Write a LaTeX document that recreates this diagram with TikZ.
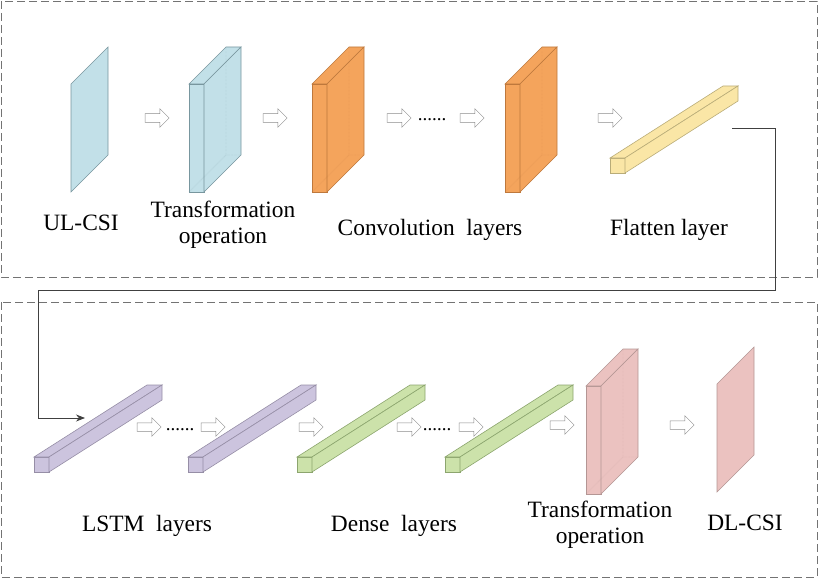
\documentclass[tikz,border=0pt]{standalone}
\usepackage{fontspec}
\setmainfont{Liberation Serif}
\usetikzlibrary{arrows.meta}
\usetikzlibrary{shapes}
\usetikzlibrary{positioning}

\definecolor{csifill}{RGB}{194,224,232}
\definecolor{csiedge}{RGB}{120,150,158}
\definecolor{convfill}{RGB}{244,164,92}
\definecolor{convedge}{RGB}{190,120,60}
\definecolor{flatfill}{RGB}{250,230,166}
\definecolor{flatedge}{RGB}{185,172,120}
\definecolor{lstmfill}{RGB}{204,196,222}
\definecolor{lstmedge}{RGB}{150,142,166}
\definecolor{densefill}{RGB}{204,226,170}
\definecolor{denseedge}{RGB}{140,165,110}
\definecolor{outfill}{RGB}{235,194,192}
\definecolor{outedge}{RGB}{180,150,148}

\begin{document}
\begin{tikzpicture}[x=1pt,y=-1pt]
            \tikzset{every node/.style={inner sep=0pt},
                    >={Stealth[length=9pt,width=7pt]},
                    groupbox/.style={draw=black!55, line width=0.8pt, dash pattern=on 8pt off 4pt},
                    blockarrow/.style={single arrow, draw=black!45, fill=white, line width=0.5pt,
                        inner xsep=0pt, inner ysep=4pt, minimum width=0pt, minimum height=24pt,
                        single arrow head extend=5pt},
                    dots/.style={anchor=base, font=\fontsize{19}{19}\selectfont},
                    caption/.style={anchor=base, align=center, font=\fontsize{23.4}{26}\selectfont},
                    pics/plane/.style args={#1/#2}{code={
                        \filldraw[fill=#1, draw=#2, line width=0.6pt] (0,0) -- (0,-108) -- (37,-145) -- (37,-37) -- cycle;
                    }},
                    pics/slab/.style args={#1/#2}{code={
                        \filldraw[fill=#1, draw=#2, line width=0.6pt] (0,0) rectangle (15,-108);
                        \filldraw[fill=#1, draw=#2, line width=0.6pt] (0,-108) -- (37,-145) -- (52,-145) -- (15,-108) -- cycle;
                        \filldraw[fill=#1, draw=#2, line width=0.6pt] (15,0) -- (15,-108) -- (52,-145) -- (52,-37) -- cycle;
                        \draw[#2, densely dotted, line width=0.4pt, opacity=0.6] (0,0) -- (37,-37) -- (52,-37) (37,-37) -- (37,-145);
                    }},
                    pics/bar/.style args={#1/#2}{code={
                        \filldraw[fill=#1, draw=#2, line width=0.6pt] (0,0) rectangle (15,-15);
                        \filldraw[fill=#1, draw=#2, line width=0.6pt] (0,-15) -- (113,-87) -- (128,-87) -- (15,-15) -- cycle;
                        \filldraw[fill=#1, draw=#2, line width=0.6pt] (15,0) -- (15,-15) -- (128,-87) -- (128,-72) -- cycle;
                    }}}
            \useasboundingbox (0,0) rectangle (820,578);
            % the two stages
            \draw[groupbox] (1,1) rectangle (817,277);
            \draw[groupbox] (1,302) rectangle (817,577);
            % upper row
            \pic (ulcsi) at (71,192) {plane=csifill/csiedge};
            \pic (trans1) at (189,192) {slab=csifill/csiedge};
            \pic (conv1) at (312,192) {slab=convfill/convedge};
            \pic (conv2) at (505,192) {slab=convfill/convedge};
            \pic (flat) at (610,173) {bar=flatfill/flatedge};
            \node[blockarrow] (a1) at (155,118) {};
            \node[blockarrow] (a2) at (273,118) {};
            \node[blockarrow] (a3) at (397,118) {};
            \node[dots] (d1) at (432,121) {......};
            \node[blockarrow] (a4) at (470,118) {};
            \node[blockarrow] (a5) at (608,118) {};
            \node[caption] (t1) at (81,230) {UL-CSI};
            \node[caption] (t2) at (223,243) {Transformation\\operation};
            \node[caption] (t3) at (430,235) {Convolution~~layers};
            \node[caption] (t4) at (669,235) {Flatten layer};
            % lower row
            \pic (lstm1) at (34,472) {bar=lstmfill/lstmedge};
            \pic (lstm2) at (188,472) {bar=lstmfill/lstmedge};
            \pic (dense1) at (297,472) {bar=densefill/denseedge};
            \pic (dense2) at (445,472) {bar=densefill/denseedge};
            \pic (trans2) at (586,494) {slab=outfill/outedge};
            \pic (dlcsi) at (717,492) {plane=outfill/outedge};
            \node[blockarrow] (b1) at (147,427) {};
            \node[dots] (d2) at (180,430) {......};
            \node[blockarrow] (b2) at (211,427) {};
            \node[blockarrow] (b3) at (309,427) {};
            \node[blockarrow] (b4) at (407,427) {};
            \node[dots] (d3) at (437,430) {......};
            \node[blockarrow] (b5) at (469,427) {};
            \node[blockarrow] (b6) at (560,425) {};
            \node[blockarrow] (b7) at (680,425) {};
            \node[caption] (t5) at (147,531) {LSTM~~layers};
            \node[caption] (t6) at (394,531) {Dense~~layers};
            \node[caption] (t7) at (600,543) {Transformation\\operation};
            \node[caption] (t8) at (745,530) {DL-CSI};
            % from the flatten layer down to the LSTM layers
            \coordinate (flat out) at (732,128);
            \coordinate (lstm in) at (85,418);
            \draw[->, black!75, line width=0.8pt] (flat out) -| (775,290) -| (38,418) -- (lstm in);
        \end{tikzpicture}
\end{document}
